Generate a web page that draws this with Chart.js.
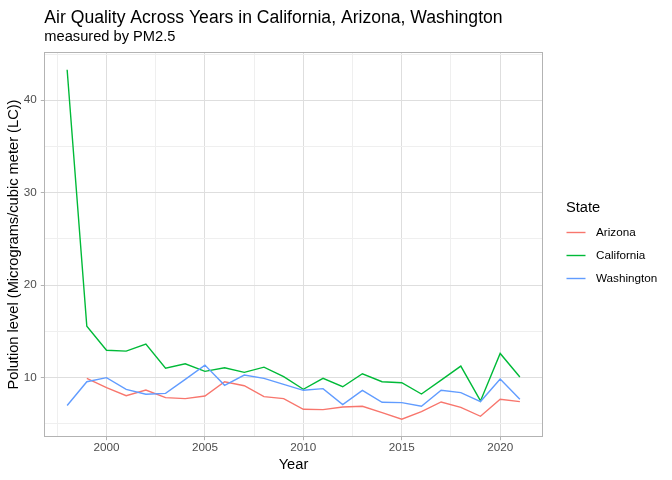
<!DOCTYPE html>
<html><head><meta charset="utf-8">
<script src="https://cdn.jsdelivr.net/npm/chart.js@4/dist/chart.umd.min.js"></script>
<style>html,body{margin:0;padding:0;background:#fff;overflow:hidden}</style>
</head><body>
<canvas id="c" width="672" height="480" style="width:672px;height:480px;display:block"></canvas>
<script>
const years = [1998,1999,2000,2001,2002,2003,2004,2005,2006,2007,2008,2009,2010,2011,2012,2013,2014,2015,2016,2017,2018,2019,2020,2021];
const arizona = [null,9.9,8.89,8.02,8.63,7.81,7.7,7.98,9.53,9.1,7.92,7.7,6.55,6.51,6.8,6.87,6.19,5.47,6.3,7.34,6.76,5.79,7.63,7.38];
const california = [43.3,15.53,12.94,12.84,13.6,11.0,11.47,10.65,11.04,10.54,11.11,10.07,8.71,9.89,8.99,10.39,9.53,9.42,8.2,9.71,11.22,7.45,12.59,10.04];
const washington = [6.95,9.53,9.97,8.7,8.17,8.27,9.78,11.33,9.14,10.25,9.89,9.24,8.6,8.78,7.05,8.6,7.3,7.27,6.87,8.6,8.35,7.38,9.82,7.63];
const seriesNames = ['Arizona','California','Washington'];
const seriesColors = ['#F8766D','#00BA38','#619CFF'];
const xTicks = [1997.5,2000,2002.5,2005,2007.5,2010,2012.5,2015,2017.5,2020];
const yTicks = [5,10,15,20,25,30,35,40,45];
const titleText = 'Air Quality Across Years in California, Arizona, Washington';
const subtitleText = 'measured by PM2.5';
const xTitle = 'Year';
const yTitle = 'Polution level (Micrograms/cubic meter (LC))';
const legendTitle = 'State';

const FONT = '"Liberation Sans", Arial, Helvetica, sans-serif';
const allSeries = [arizona, california, washington];

const datasets = allSeries.map((vals, i) => ({
  label: seriesNames[i],
  data: years.map((yr, j) => ({x: yr, y: vals[j]})),
  borderColor: seriesColors[i],
  backgroundColor: seriesColors[i],
  borderWidth: 1.4,
  pointRadius: 0,
  tension: 0,
  fill: false,
  order: 3 - i
}));

const decor = {
  id: 'decor',
  afterDraw(chart) {
    const ctx = chart.ctx, a = chart.chartArea;
    ctx.save();
    ctx.strokeStyle = '#b3b3b3';
    ctx.lineWidth = 1;
    ctx.strokeRect(a.left, a.top, a.right - a.left, a.bottom - a.top);
    ctx.fillStyle = '#000';
    ctx.textBaseline = 'alphabetic';
    ctx.textAlign = 'left';
    ctx.font = '17.6px ' + FONT;
    ctx.fillText(titleText, 44.3, 22.5);
    ctx.font = '14.67px ' + FONT;
    ctx.fillText(subtitleText, 44.3, 40.5);
    // legend
    ctx.font = '14.67px ' + FONT;
    ctx.fillText(legendTitle, 566, 211.7);
    ctx.font = '11.7px ' + FONT;
    ctx.textBaseline = 'middle';
    const ys = [232.5, 255.5, 278.5];
    seriesNames.forEach((n, i) => {
      ctx.strokeStyle = seriesColors[i];
      ctx.lineWidth = 1.4;
      ctx.beginPath();
      ctx.moveTo(566.5, ys[i]);
      ctx.lineTo(585.5, ys[i]);
      ctx.stroke();
      ctx.fillStyle = '#000';
      ctx.fillText(n, 596, ys[i] + 0.5);
    });
    ctx.restore();
  }
};

new Chart(document.getElementById('c'), {
  type: 'line',
  data: { datasets },
  plugins: [decor],
  options: {
    responsive: false,
    devicePixelRatio: 1,
    animation: false,
    layout: { padding: { top: 52.5, right: 129.5, left: 0, bottom: 0 } },
    plugins: { legend: { display: false }, tooltip: { enabled: false }, title: { display: false } },
    scales: {
      x: {
        type: 'linear',
        min: 1996.85, max: 2022.15,
        afterBuildTicks: s => { s.ticks = xTicks.map(v => ({value: v})); },
        afterFit: s => { s.height = 43.5; },
        ticks: {
          autoSkip: false, maxRotation: 0, padding: 1,
          font: { size: 11.7, family: FONT }, color: '#4d4d4d',
          callback: v => (v % 5 === 0 ? String(v) : '')
        },
        grid: {
          color: c => (c.tick && c.tick.value % 5 === 0 ? '#dedede' : '#efefef'),
          lineWidth: 1,
          tickLength: 3.7,
          tickWidth: 1,
          tickColor: c => (c.tick && c.tick.value % 5 === 0 ? '#b3b3b3' : 'rgba(0,0,0,0)')
        },
        border: { display: false },
        title: { display: true, text: xTitle, color: '#000', font: { size: 14.67, family: FONT }, padding: { top: 0, bottom: 6 } }
      },
      y: {
        type: 'linear',
        min: 3.6, max: 45.17,
        afterBuildTicks: s => { s.ticks = yTicks.map(v => ({value: v})); },
        afterFit: s => { s.width = 44.5; },
        ticks: {
          autoSkip: false, padding: 4,
          font: { size: 11.7, family: FONT }, color: '#4d4d4d',
          callback: v => (v % 10 === 0 ? String(v) : '')
        },
        grid: {
          color: c => (c.tick && c.tick.value % 10 === 0 ? '#dedede' : '#efefef'),
          lineWidth: 1,
          tickLength: 3.7,
          tickWidth: 1,
          tickColor: c => (c.tick && c.tick.value % 10 === 0 ? '#b3b3b3' : 'rgba(0,0,0,0)')
        },
        border: { display: false },
        title: { display: true, text: yTitle, color: '#000', font: { size: 14.67, family: FONT }, padding: { top: 5, bottom: 0 } }
      }
    }
  }
});
</script>
</body></html>
